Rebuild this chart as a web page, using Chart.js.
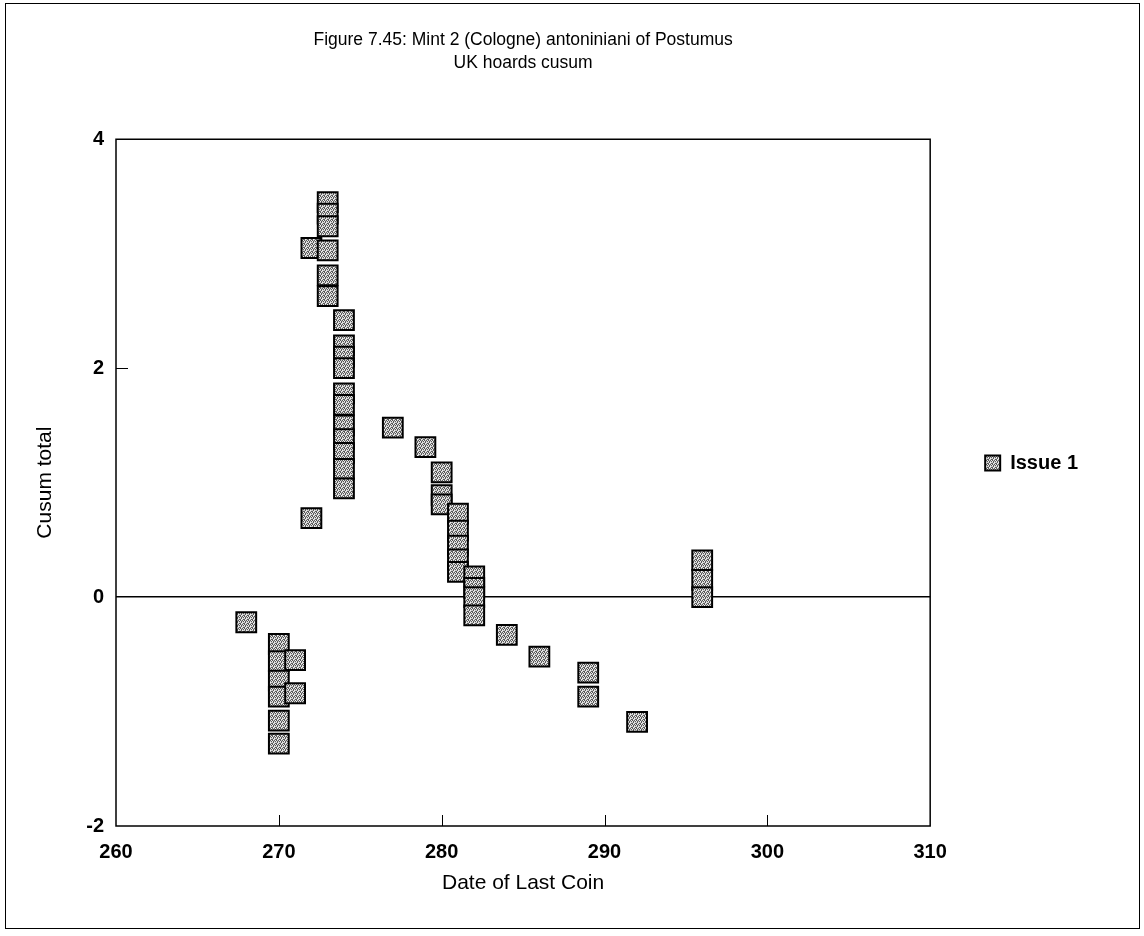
<!DOCTYPE html>
<html>
<head>
<meta charset="utf-8">
<script src="https://cdn.jsdelivr.net/npm/chart.js@4/dist/chart.umd.min.js"></script>
<style>
  html, body { margin: 0; padding: 0; background: #fff; }
  #wrap { width: 1144px; height: 936px; position: relative; }
</style>
</head>
<body>
<div id="wrap"><canvas id="cusumChart" width="1144" height="936"></canvas></div>
<script>
// Dati: anno dell'ultima moneta e cusum
const dateOfLastCoin = [
    268,
    270, 270, 270, 270, 270, 270,
    271, 271,
    272, 272,
    273, 273, 273, 273, 273, 273,
    274, 274, 274, 274, 274, 274, 274, 274, 274, 274, 274,
    277, 279,
    280, 280, 280,
    281, 281, 281, 281, 281,
    282, 282, 282, 282,
    284, 286, 289, 289, 292,
    296, 296, 296
];
const cusumTotal = [
    -0.22,
    -0.41, -0.56, -0.73, -0.87, -1.08, -1.28,
    -0.55, -0.84,
    0.69, 3.05,
    3.45, 3.35, 3.24, 3.03, 2.81, 2.63,
    2.42, 2.20, 2.10, 2.00, 1.78, 1.68, 1.50, 1.38, 1.26, 1.12, 0.95,
    1.48, 1.31,
    1.09, 0.89, 0.81,
    0.73, 0.58, 0.45, 0.33, 0.22,
    0.18, 0.08, 0.00, -0.16,
    -0.33, -0.52, -0.66, -0.87, -1.09,
    0.32, 0.15, 0.00
];
const seriesName = "Issue 1";
const xTicks = [260, 270, 280, 290, 300, 310];
const yTicks = [-2, 0, 2, 4];

const FONT = "'Liberation Sans', Arial, sans-serif";

// Retino grigio puntinato per i marcatori
function makeStipple() {
    const rows = ["0102", "2010", "1021", "0210"];
    const cols = ["#5a5a5a", "#c8c8c8", "#f2f2f2"];
    const c = document.createElement("canvas");
    c.width = 4; c.height = 4;
    const g = c.getContext("2d");
    for (let y = 0; y < 4; y++) {
        for (let x = 0; x < 4; x++) {
            g.fillStyle = cols[+rows[y][x]];
            g.fillRect(x, y, 1, 1);
        }
    }
    return g.createPattern(c, "repeat");
}

// Cornice esterna, riquadro del grafico e tacche interne
const framePlugin = {
    id: "frame",
    afterDraw(chart) {
        const ctx = chart.ctx;
        const a = chart.chartArea;
        const xs = chart.scales.x, ys = chart.scales.y;
        ctx.save();
        ctx.strokeStyle = "#000";
        ctx.lineWidth = 1;
        ctx.strokeRect(5.5, 3.5, 1134, 925);
        ctx.lineWidth = 1.5;
        ctx.strokeRect(a.left, a.top, a.right - a.left, a.bottom - a.top);
        ctx.beginPath();
        [270, 280, 290, 300].forEach(v => {
            const px = Math.round(xs.getPixelForValue(v)) + 0.5;
            ctx.moveTo(px, a.bottom);
            ctx.lineTo(px, a.bottom - 11);
        });
        const py = Math.round(ys.getPixelForValue(2)) + 0.5;
        ctx.moveTo(a.left, py);
        ctx.lineTo(a.left + 12, py);
        ctx.lineWidth = 1;
        ctx.stroke();
        ctx.restore();
    }
};

document.addEventListener("DOMContentLoaded", function () {
    const canvas = document.getElementById("cusumChart");
    const stipple = makeStipple();

    const points = dateOfLastCoin.map((d, i) => ({ x: d, y: cusumTotal[i] }));

    new Chart(canvas, {
        type: "scatter",
        data: {
            datasets: [{
                label: seriesName,
                data: points,
                pointStyle: "rect",
                pointRadius: 14,
                pointHoverRadius: 14,
                backgroundColor: stipple,
                borderColor: "#000",
                borderWidth: 2
            }]
        },
        options: {
            responsive: false,
            animation: false,
            layout: { padding: { left: 8, right: 56, top: 0, bottom: 10 } },
            plugins: {
                tooltip: { enabled: false },
                title: {
                    display: true,
                    fullSize: false,
                    text: ["Figure 7.45: Mint 2 (Cologne) antoniniani of Postumus", "UK hoards cusum"],
                    color: "#000",
                    font: { family: FONT, size: 17.5, weight: "normal", lineHeight: 1.35 },
                    padding: { top: 28, bottom: 64 }
                },
                legend: {
                    position: "right",
                    labels: {
                        usePointStyle: true,
                        boxWidth: 15,
                        boxHeight: 15,
                        padding: 55,
                        color: "#000",
                        font: { family: FONT, size: 20, weight: "bold" }
                    }
                }
            },
            scales: {
                x: {
                    type: "linear",
                    min: 260,
                    max: 310,
                    afterBuildTicks: s => { s.ticks = xTicks.map(v => ({ value: v })); },
                    afterFit: s => { s.height = 100; },
                    grid: { display: false, drawTicks: false },
                    border: { display: false },
                    ticks: { padding: 14, color: "#000", font: { family: FONT, size: 20, weight: "bold" } },
                    title: {
                        display: true,
                        text: "Date of Last Coin",
                        color: "#000",
                        font: { family: FONT, size: 21 },
                        padding: { top: 0, bottom: 30 }
                    }
                },
                y: {
                    min: -2,
                    max: 4,
                    afterBuildTicks: s => { s.ticks = yTicks.map(v => ({ value: v })); },
                    afterFit: s => { s.width = 108; },
                    grid: {
                        drawTicks: false,
                        lineWidth: 1.5,
                        color: c => (c.tick && c.tick.value === 0 ? "#000" : "rgba(0,0,0,0)")
                    },
                    border: { display: false },
                    ticks: { padding: 12, color: "#000", font: { family: FONT, size: 20, weight: "bold" } },
                    title: {
                        display: true,
                        text: "Cusum total",
                        color: "#000",
                        font: { family: FONT, size: 21 },
                        padding: { top: 25, bottom: 0 }
                    }
                }
            }
        },
        plugins: [framePlugin]
    });
});
</script>
</body>
</html>
